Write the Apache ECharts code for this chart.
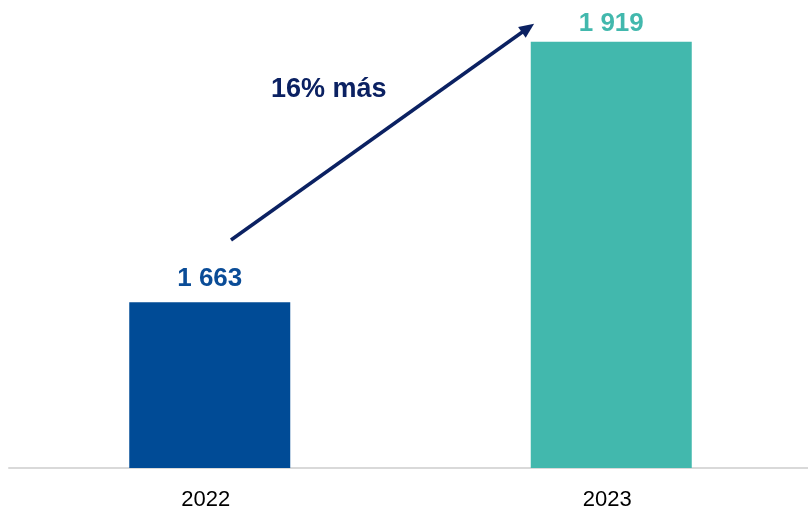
<!DOCTYPE html>
<html><head><meta charset="utf-8">
<script src="https://cdn.jsdelivr.net/npm/echarts@6/dist/echarts.min.js"></script>
<style>html,body{margin:0;padding:0;background:#fff}#c{width:808px;height:511px}</style>
</head><body><div id="c"></div>
<script>
const categories = ['2022', '2023'];
const values = [1663, 1919];
const barColors = ['#004B96', '#42B8AD'];
const annotation = '16% más';

const chart = echarts.init(document.getElementById('c'));
const fmt = v => String(v).replace(/\B(?=(\d{3})+(?!\d))/g, ' ');
chart.setOption({
  animation: false,
  grid: {left: 9, width: 803, top: 0, bottom: 43, outerBoundsMode: 'none', containLabel: false},
  xAxis: {
    type: 'category', data: categories,
    axisLine: {lineStyle: {color: '#d9d9d9', width: 2}},
    axisTick: {show: false},
    axisLabel: {color: '#000', fontFamily: 'Liberation Sans, Arial', fontSize: 22, margin: 21,
      padding: [0, 8, 0, 0]}
  },
  yAxis: {type: 'value', min: 1500, max: 1960, show: false, splitLine: {show: false}},
  series: [{
    type: 'bar', barWidth: 161,
    data: values.map((v, i) => ({
      value: v,
      itemStyle: {color: barColors[i]},
      label: {show: true, position: 'top', distance: i === 0 ? 10 : 5,
        color: i === 0 ? '#0A4C97' : '#42B8AD', fontWeight: 'bold', fontSize: 26,
        fontFamily: 'Liberation Sans, Arial', formatter: p => fmt(p.value)}
    })),
    markLine: {
      silent: true, symbol: ['none', 'triangle'], symbolSize: [13, 15],
      lineStyle: {color: '#0B2162', width: 3.5, type: 'solid'},
      label: {show: false},
      data: [[{x: 231, y: 240}, {x: 528, y: 28}]]
    }
  }],
  graphic: [{type: 'text', left: 271, top: 76,
    style: {text: annotation, fill: '#0B2162', font: 'bold 27px "Liberation Sans", Arial'}}]
});
</script></body></html>
